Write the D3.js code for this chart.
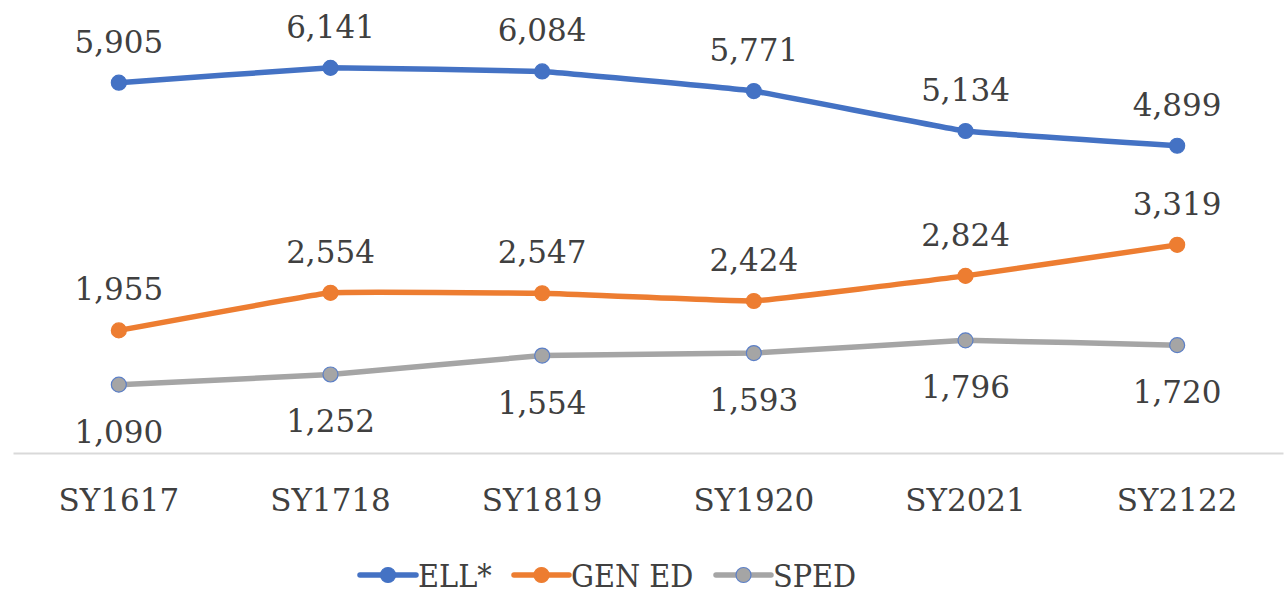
<!DOCTYPE html>
<html><head><meta charset="utf-8">
<script src="https://cdn.jsdelivr.net/npm/d3@7"></script>
<style>
html,body{margin:0;padding:0;background:#fff;}
svg{display:block;}
</style></head>
<body><svg id="chart" width="1287" height="594"></svg>
<script>
const categories = ["SY1617","SY1718","SY1819","SY1920","SY2021","SY2122"];
const ellValues = [5905,6141,6084,5771,5134,4899];
const genEdValues = [1955,2554,2547,2424,2824,3319];
const spedValues = [1090,1252,1554,1593,1796,1720];
const seriesNames = ["ELL*","GEN ED","SPED"];

const series = [
  {name: seriesNames[0], values: ellValues, color: "#4472C4", markerFill: "#4472C4", markerStroke: "#4472C4", labelPos: "above"},
  {name: seriesNames[1], values: genEdValues, color: "#ED7D31", markerFill: "#ED7D31", markerStroke: "#ED7D31", labelPos: "above"},
  {name: seriesNames[2], values: spedValues, color: "#A5A5A5", markerFill: "#A5A5A5", markerStroke: "#5B7FC7", labelPos: "below"}
];

const svg = d3.select("#chart");
const x = d3.scaleBand().domain(categories).range([13, 1283]);
const y = d3.scaleLinear().domain([0, 7000]).range([453, 14]);
const cx = c => x(c) + x.bandwidth()/2;
const fmt = d3.format(",");
const font = "'DejaVu Serif', serif";

// x axis
const xAxis = d3.axisBottom(x).tickSize(0).tickPadding(0);
const ax = svg.append("g").attr("transform", "translate(0,453)").call(xAxis);
ax.select(".domain").attr("stroke", "#d9d9d9").attr("stroke-width", 2);
ax.selectAll(".tick text")
  .attr("font-family", font).attr("font-size", 31).attr("fill", "#404040")
  .attr("dy", null).attr("y", 58);

const line = d3.line().x((d,i) => cx(categories[i])).y(d => y(d)).curve(d3.curveCardinal.tension(0.8));

series.forEach(s => {
  const g = svg.append("g");
  g.append("path").datum(s.values).attr("d", line)
    .attr("fill", "none").attr("stroke", s.color).attr("stroke-width", 5.5).attr("stroke-linecap", "round");
  g.selectAll("circle").data(s.values).join("circle")
    .attr("cx", (d,i) => cx(categories[i])).attr("cy", d => y(d)).attr("r", 7.5)
    .attr("fill", s.markerFill).attr("stroke", s.markerStroke).attr("stroke-width", 1.2);
  g.selectAll("text").data(s.values).join("text")
    .attr("x", (d,i) => cx(categories[i]))
    .attr("y", d => s.labelPos === "above" ? y(d) - 30 : y(d) + 58)
    .attr("text-anchor", "middle")
    .attr("font-family", font).attr("font-size", 31).attr("fill", "#404040")
    .text(d => fmt(d));
});

// legend
const legendItems = [
  {s: series[0], x0: 360, x1: 416, tx: 418},
  {s: series[1], x0: 514, x1: 569, tx: 571},
  {s: series[2], x0: 716, x1: 771, tx: 773}
];
const ly = 575;
const lg = svg.append("g");
legendItems.forEach(it => {
  lg.append("line").attr("x1", it.x0).attr("x2", it.x1).attr("y1", ly).attr("y2", ly)
    .attr("stroke", it.s.color).attr("stroke-width", 5.5).attr("stroke-linecap", "round");
  lg.append("circle").attr("cx", (it.x0+it.x1)/2).attr("cy", ly).attr("r", 7.5)
    .attr("fill", it.s.markerFill).attr("stroke", it.s.markerStroke).attr("stroke-width", 1.2);
  lg.append("text").attr("x", it.tx).attr("y", ly + 12)
    .attr("font-family", "'DejaVu Serif Condensed', 'DejaVu Serif', serif")
    .attr("font-stretch", "condensed")
    .attr("font-size", 32).attr("fill", "#404040").text(it.s.name);
});
</script></body></html>
